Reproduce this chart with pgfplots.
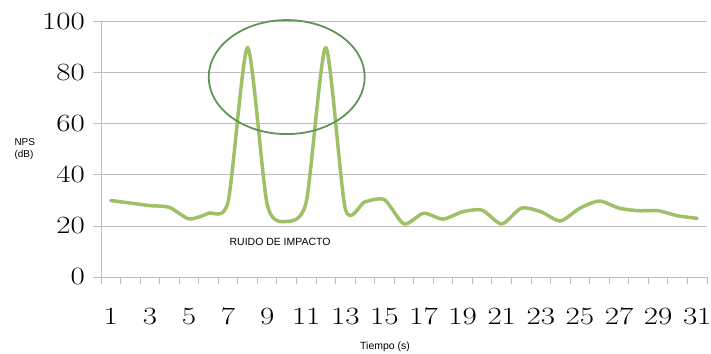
\documentclass[border=0pt]{standalone}
\usepackage{pgfplots}
\pgfplotsset{compat=1.18}
\usepackage{fontspec}
\setsansfont{Liberation Sans}
\definecolor{curve}{RGB}{158,193,104}
\definecolor{ell}{RGB}{95,150,85}
\definecolor{gridc}{RGB}{190,190,190}
\begin{document}
\begin{tikzpicture}
\begin{axis}[
  scale only axis, width=606bp, height=255bp,
  at={(0,0)}, anchor=south west,
  xmin=0.5, xmax=31.5, ymin=0, ymax=100,
  axis lines=left, axis line style={gridc, line width=1bp, -},
  xtick={1,3,...,31}, major x tick style={draw=none},
  minor xtick={0.5,1.5,...,31.5},
  minor x tick style={gridc, line width=1bp},
  minor tick length=7bp,
  ytick={0,20,...,100},
  ymajorgrids, grid style={gridc, line width=1bp},
  y tick style={gridc, line width=1bp},
  major tick length=8bp, tick align=outside,
  ticklabel style={font=\fontsize{23}{23}\selectfont, xscale=1.25},
  xticklabel style={yshift=-20bp},
  yticklabel style={xshift=-3bp},
  clip=false,
]
\addplot[curve, line width=3.5bp, line join=round, line cap=round, smooth, tension=0.42] coordinates {
(1,30) (2,29) (3,28) (4,27.3) (5,22.8) (6,25) (7,29.5) (8,90) (9,28.5) (10,21.8)
(11,29.5) (12,90) (13,26.7) (14,29.5) (15,30.3) (16,20.8) (17,25) (18,22.7)
(19,25.6) (20,26.2) (21,20.8) (22,27) (23,25.6) (24,22) (25,27) (26,29.8)
(27,27) (28,26) (29,26) (30,24) (31,23)
};
\draw[ell, line width=1.8bp] (axis cs:10,78.4) ellipse [x radius=78bp, y radius=57bp];
\node[font=\sffamily\fontsize{10.5}{12}\selectfont] at (axis cs:9.66,13.7) {RUIDO DE IMPACTO};
\end{axis}
\node[font=\sffamily\fontsize{10}{12.5}\selectfont, align=left, anchor=west] at (-90bp,128bp) {NPS\\(dB)};
\node[font=\sffamily\fontsize{10.5}{12}\selectfont] at (284bp,-70bp) {Tiempo (s)};
\pgfresetboundingbox
\path (-101bp,-77bp) rectangle (610bp,277bp);
\end{tikzpicture}
\end{document}
